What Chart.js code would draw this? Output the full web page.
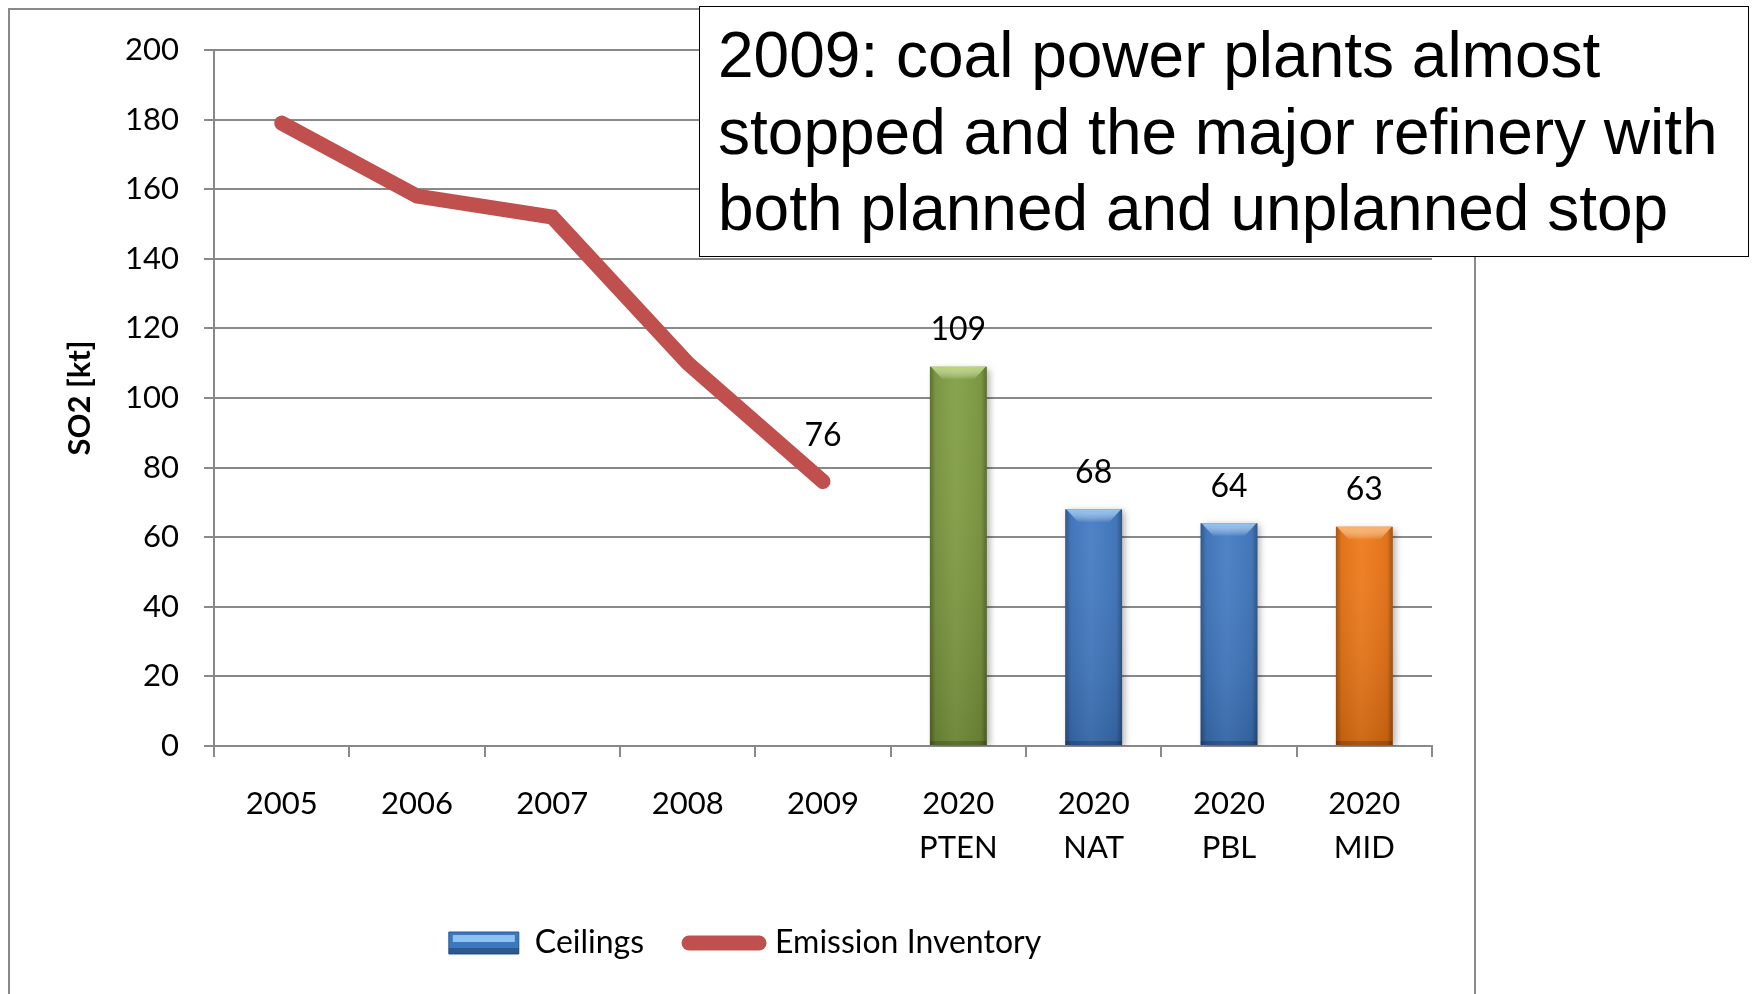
<!DOCTYPE html>
<html>
<head>
<meta charset="utf-8">
<title>SO2 emissions and 2020 ceilings</title>
<script src="https://cdn.jsdelivr.net/npm/chart.js@4.4.1/dist/chart.umd.min.js"></script>
<style>
  html, body { margin: 0; padding: 0; background: #fff; overflow: hidden; }
  body { width: 1752px; height: 994px; position: relative; }
  #frame {
    position: absolute; left: 8px; top: 8px; width: 1468px; height: 1200px;
    box-sizing: border-box; border: 2px solid #8a8a8a;
  }
  #chart { position: absolute; left: 0; top: 0; }
  #note {
    position: absolute; left: 699px; top: 6px; width: 1050px; height: 251px;
    box-sizing: border-box; border: 1.5px solid #000; background: #fff;
    font-family: "Liberation Sans", Arial, sans-serif; font-size: 64px; line-height: 76.5px;
    color: #000; padding: 10px 0 0 18px; white-space: nowrap;
  }
</style>
</head>
<body>
<div id="frame"></div>
<canvas id="chart" width="1752" height="994"></canvas>
<div id="note">2009: coal power plants almost<br>stopped and the major refinery with<br>both planned and unplanned stop</div>
<script>
// Category axis: inventory years, then the 2020 ceiling scenarios
const years = ['2005', '2006', '2007', '2008', '2009'];
const scenarios = ['PTEN', 'NAT', 'PBL', 'MID'];
const categories = years.map(y => [y]).concat(scenarios.map(s => ['2020', s]));

// SO2 in kt
const emissionInventory = [179, 158, 152, 110, 76, null, null, null, null];
const ceilings = [null, null, null, null, null, 109, 68, 64, 63];

// Y axis ticks
const yMin = 0, yMax = 200, yStep = 20;

// Bar fills and their bevel highlights, one per category
const barFill  = [null, null, null, null, null, '#7D9B3D', '#3D77C2', '#3D77C2', '#EE7511'];
const barLight = [null, null, null, null, null, '#B9D674', '#8CC3F2', '#8CC3F2', '#FAB066'];

const FONT = 'Lato, "Open Sans", sans-serif';
const GRID = '#898989';
const LINE_RED = '#C0504D';

// Office-style 3D shading on the ceiling bars
const barShade = {
  id: 'barShade',
  beforeDatasetDraw(chart, args) {
    if (args.index !== 0) return;
    const ctx = chart.ctx;
    ctx.save();
    ctx.shadowColor = 'rgba(0,0,0,0.32)';
    ctx.shadowBlur = 7;
    ctx.shadowOffsetX = 3;
    ctx.shadowOffsetY = 2;
  },
  afterDatasetDraw(chart, args) {
    if (args.index !== 0) return;
    const ctx = chart.ctx;
    ctx.restore();
    ctx.save();
    args.meta.data.forEach((bar, i) => {
      if (ceilings[i] == null) return;
      const p = bar.getProps(['x', 'y', 'base', 'width'], true);
      const l = p.x - p.width / 2, r = p.x + p.width / 2, t = p.y, b = p.base;
      const w = r - l, h = b - t;

      const gh = ctx.createLinearGradient(l, 0, r, 0);
      gh.addColorStop(0, 'rgba(0,0,0,0.32)');
      gh.addColorStop(0.10, 'rgba(0,0,0,0.06)');
      gh.addColorStop(0.45, 'rgba(255,255,255,0.05)');
      gh.addColorStop(0.90, 'rgba(0,0,0,0.06)');
      gh.addColorStop(1, 'rgba(0,0,0,0.34)');
      ctx.fillStyle = gh;
      ctx.fillRect(l, t, w, h);

      const gv = ctx.createLinearGradient(0, t, 0, b);
      gv.addColorStop(0, 'rgba(255,255,255,0.04)');
      gv.addColorStop(1, 'rgba(0,0,0,0.14)');
      ctx.fillStyle = gv;
      ctx.fillRect(l, t, w, h);

      const bev = 13;
      const gb = ctx.createLinearGradient(0, t, 0, t + bev);
      gb.addColorStop(0, barLight[i]);
      gb.addColorStop(1, 'rgba(255,255,255,0)');
      ctx.beginPath();
      ctx.moveTo(l + 1, t);
      ctx.lineTo(r - 1, t);
      ctx.lineTo(r - bev, t + bev);
      ctx.lineTo(l + bev, t + bev);
      ctx.closePath();
      ctx.fillStyle = gb;
      ctx.fill();

      ctx.fillStyle = 'rgba(0,0,0,0.18)';
      ctx.fillRect(l, b - 4, w, 4);
    });
    ctx.restore();
  }
};

// Value labels above the bars and at the last inventory year
const valueLabels = {
  id: 'valueLabels',
  afterDatasetsDraw(chart) {
    const ctx = chart.ctx;
    ctx.save();
    ctx.font = '32px ' + FONT;
    ctx.fillStyle = '#000';
    ctx.textAlign = 'center';
    ctx.textBaseline = 'middle';
    chart.getDatasetMeta(0).data.forEach((bar, i) => {
      if (ceilings[i] == null) return;
      ctx.fillText(String(ceilings[i]), bar.x, bar.y - 37);
    });
    let last = -1;
    emissionInventory.forEach((v, i) => { if (v != null) last = i; });
    if (last >= 0) {
      const pt = chart.getDatasetMeta(1).data[last];
      ctx.fillText(String(emissionInventory[last]), pt.x, pt.y - 46);
    }
    ctx.restore();
  }
};

// Bevel on the legend swatch for the bars
const legendSwatch = {
  id: 'legendSwatch',
  afterDraw(chart) {
    const hb = chart.legend && chart.legend.legendHitBoxes && chart.legend.legendHitBoxes[0];
    if (!hb) return;
    const ctx = chart.ctx;
    const top = hb.top + 16 - 11;
    ctx.save();
    ctx.fillStyle = 'rgba(0,0,0,0.25)';
    ctx.fillRect(hb.left, top + 16, 70, 6);
    ctx.fillStyle = '#8CC3F2';
    ctx.fillRect(hb.left + 4, top + 3, 62, 7);
    ctx.restore();
  }
};

function build() {
  new Chart(document.getElementById('chart'), {
    type: 'bar',
    data: {
      labels: categories,
      datasets: [
        {
          type: 'bar',
          label: 'Ceilings',
          data: ceilings,
          backgroundColor: barFill,
          borderWidth: 0,
          barPercentage: 0.42,
          categoryPercentage: 1.0,
          order: 2
        },
        {
          type: 'line',
          label: 'Emission Inventory',
          data: emissionInventory,
          borderColor: LINE_RED,
          backgroundColor: LINE_RED,
          borderWidth: 15,
          borderCapStyle: 'round',
          borderJoinStyle: 'miter',
          pointRadius: 0,
          pointHoverRadius: 0,
          tension: 0,
          fill: false,
          spanGaps: false,
          order: 1
        }
      ]
    },
    options: {
      responsive: false,
      devicePixelRatio: 1,
      animation: false,
      layout: { padding: { left: 58, right: 320, top: 50, bottom: 25 } },
      plugins: {
        tooltip: { enabled: false },
        legend: {
          position: 'bottom',
          labels: {
            font: { family: FONT, size: 32 },
            color: '#000',
            padding: 45,
            usePointStyle: true,
            pointStyleWidth: 70,
            boxHeight: 22,
            generateLabels: (chart) => [
              {
                text: 'Ceilings', datasetIndex: 0, pointStyle: 'rect',
                fillStyle: '#3D77C2', strokeStyle: '#2C5A93', lineWidth: 1, hidden: false
              },
              {
                text: 'Emission Inventory', datasetIndex: 1, pointStyle: 'line',
                fillStyle: LINE_RED, strokeStyle: LINE_RED, lineWidth: 15, lineCap: 'round', hidden: false
              }
            ]
          }
        }
      },
      scales: {
        x: {
          offset: true,
          grid: {
            display: true, drawOnChartArea: false, drawTicks: true,
            tickLength: 11, color: GRID, lineWidth: 2, offset: true
          },
          border: { display: true, color: GRID, width: 2 },
          ticks: {
            color: '#000', padding: 25, maxRotation: 0, autoSkip: false,
            font: { family: FONT, size: 31, lineHeight: '44px' }
          },
          afterFit: (scale) => { scale.height = 136; }
        },
        y: {
          min: yMin, max: yMax,
          grid: { color: GRID, lineWidth: 2, drawTicks: true, tickLength: 10 },
          border: { display: true, color: GRID, width: 2 },
          ticks: {
            stepSize: yStep, color: '#000', padding: 25,
            font: { family: FONT, size: 31 }
          },
          title: {
            display: true, text: 'SO2 [kt]', color: '#000',
            font: { family: FONT, size: 31, weight: 'bold' },
            padding: { top: 3, bottom: 0 }
          },
          afterFit: (scale) => { scale.width = 156; }
        }
      }
    },
    plugins: [barShade, valueLabels, legendSwatch]
  });
}

if (document.fonts && document.fonts.load) {
  document.fonts.load('30px Lato').then(build, build);
} else {
  build();
}
</script>
</body>
</html>
